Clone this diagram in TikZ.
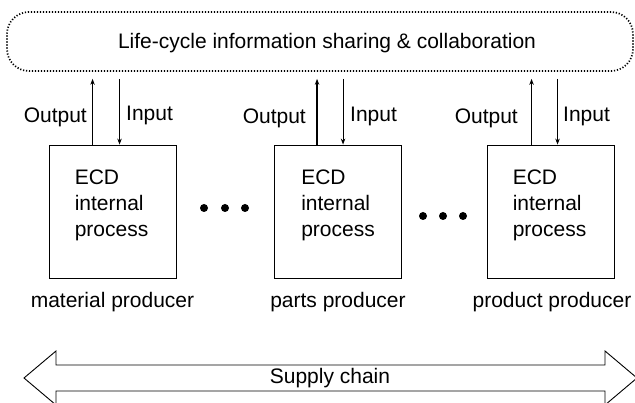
\documentclass[tikz,border=0pt]{standalone}
\usepackage{fontspec}
\setmainfont{Liberation Sans}
\usetikzlibrary{arrows.meta,calc}
\tikzset{
  lbl/.style={font=\fontsize{21}{26}\selectfont, inner sep=0pt},
  proc/.style={draw, line width=0.9pt, minimum width=127pt, minimum height=133pt, inner sep=0pt},
  shared/.style={draw, line width=1.7pt, dash pattern=on 1.2pt off 1.8pt, rounded corners=22pt,
    minimum width=626pt, minimum height=59pt, inner sep=0pt},
  tip/.style={-{Stealth[length=6pt,width=4.5pt]}},
  thinarr/.style={tip, line width=0.8pt},
  thickarr/.style={tip, line width=1.3pt},
  dot/.style={circle, fill=black, minimum size=8pt, inner sep=0pt},
  chain/.style={draw, line width=0.9pt, fill=white}
}
\begin{document}
\begin{tikzpicture}[x=1pt,y=-1pt]
\useasboundingbox (0,0) rectangle (635,403);
\clip (0,0) rectangle (635,403);
% shared info box
\node[shared] (top) at (320,41.5) {};
\node[lbl] (toptxt) at (327,43) {Life-cycle information sharing \& collaboration};
% process boxes
\node[proc] (b1) at (112.5,211.5) {};
\node[proc] (b2) at (338,211.5) {};
\node[proc] (b3) at (550.5,211.5) {};
\node[lbl, anchor=west, align=left] (t1) at ($(b1.west)+(26,-6)$) {ECD\\internal\\process};
\node[lbl, anchor=west, align=left] (t2) at ($(b2.west)+(27,-6)$) {ECD\\internal\\process};
\node[lbl, anchor=west, align=left] (t3) at ($(b3.west)+(26,-6)$) {ECD\\internal\\process};
% producer labels
\node[lbl] (p1) at (112.5,302) {material producer};
\node[lbl] (p2) at (338,302) {parts producer};
\node[lbl] (p3) at (552,302) {product producer};
% output / input arrows
\coordinate (o1) at ($(b1.north west)+(44,0)$);
\coordinate (i1) at ($(b1.north west)+(71,0)$);
\coordinate (o2) at ($(b2.north west)+(43,0)$);
\coordinate (i2) at ($(b2.north west)+(69,0)$);
\coordinate (o3) at ($(b3.north west)+(45,0)$);
\coordinate (i3) at ($(b3.north west)+(71,0)$);
\draw[thinarr] (o1) -- ($(o1 |- top.south)+(0,7)$);
\draw[thinarr] ($(i1 |- top.south)+(0,7)$) -- (i1);
\draw[thickarr] (o2) -- ($(o2 |- top.south)+(0,7)$);
\draw[thinarr] ($(i2 |- top.south)+(0,7)$) -- (i2);
\draw[thickarr] (o3) -- ($(o3 |- top.south)+(0,7)$);
\draw[thinarr] ($(i3 |- top.south)+(0,7)$) -- (i3);
\node[lbl, anchor=east] (ol1) at (87,117) {Output};
\node[lbl, anchor=west] (il1) at (126,115) {Input};
\node[lbl, anchor=east] (ol2) at (306,118) {Output};
\node[lbl, anchor=west] (il2) at (350,116) {Input};
\node[lbl, anchor=east] (ol3) at (518,118) {Output};
\node[lbl, anchor=west] (il3) at (563,116) {Input};
% dots
\node[dot] (d1) at (204,208) {};
\node[dot] (d2) at (225,208) {};
\node[dot] (d3) at (245,208) {};
\node[dot] (d4) at (423,216) {};
\node[dot] (d5) at (443,216) {};
\node[dot] (d6) at (463,216) {};
% supply chain double arrow
\draw[chain] (24,378) -- (56,351) -- (56,365) -- (605,365) -- (605,351) -- (637,378)
  -- (605,405) -- (605,391) -- (56,391) -- (56,405) -- cycle;
\node[lbl] (sc) at (330,378) {Supply chain};
\end{tikzpicture}
\end{document}
